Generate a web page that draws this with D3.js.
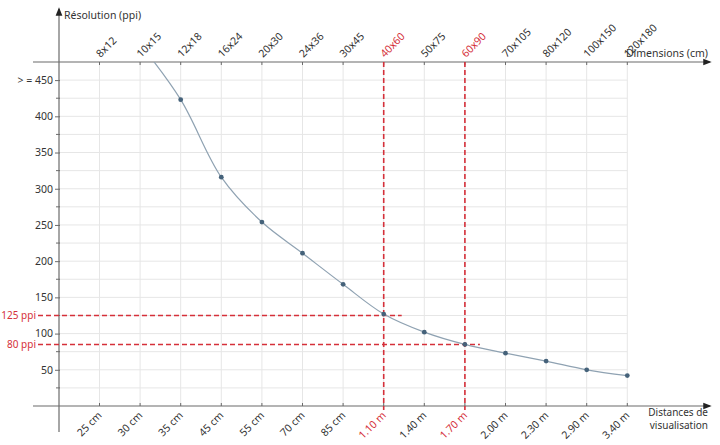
<!DOCTYPE html>
<html>
<head>
<meta charset="utf-8">
<script src="https://cdn.jsdelivr.net/npm/d3@7"></script>
<style>
  body { margin: 0; background: #fff; }
  svg text { font-family: "Noto Sans", "Open Sans", sans-serif; }
</style>
</head>
<body>
<div id="chart"></div>
<script>
// print sizes (top axis) and matching viewing distances (bottom axis)
var dimensions = ["8x12", "10x15", "12x18", "16x24", "20x30", "24x36", "30x45",
  "40x60", "50x75", "60x90", "70x105", "80x120", "100x150", "120x180"];
var distances = ["25 cm", "30 cm", "35 cm", "45 cm", "55 cm", "70 cm", "85 cm",
  "1.10 m", "1.40 m", "1.70 m", "2.00 m", "2.30 m", "2.90 m", "3.40 m"];
// resolution in ppi (first one is off the chart)
var resolution = [null, 500, 423, 316, 254, 211, 168, 127, 102, 85, 73, 62, 50, 42];

var yTicks = [50, 100, 150, 200, 250, 300, 350, 400, 450];
var yMinor = [25, 75, 125, 175, 225, 275, 325, 375, 425];
var yLabels = ["50", "100", "150", "200", "250", "300", "350", "400", "> = 450"];

// the two highlighted cases
var marks = [
  { dim: "40x60", dist: "1.10 m", ppi: 125, label: "125 ppi", reach: 18 },
  { dim: "60x90", dist: "1.70 m", ppi: 85, label: "80 ppi", reach: 15 }
];
var highlighted = marks.map(function(m) { return m.dim; });
var highlightedDist = marks.map(function(m) { return m.dist; });

var W = 720, H = 445;
var red = "#d5303a", axisColor = "#6b6b6b", gridColor = "#e6e6e6", textColor = "#333";

var svg = d3.select("#chart").append("svg")
  .attr("width", W)
  .attr("height", H);

var y0 = 59;     // x position of the vertical axis
var topY = 62;   // y of the dimensions axis
var botY = 406;  // y of the distances axis

var x = d3.scalePoint().domain(dimensions).range([99.5, 627.3]);
var xd = d3.scalePoint().domain(distances).range([99.5, 627.3]);
var y = d3.scaleLinear().domain([0, 475]).range([botY, topY]);

// grid
var grid = svg.append("g");
grid.selectAll(".hg").data(yTicks.concat(yMinor)).enter().append("line")
  .attr("x1", y0).attr("x2", x.range()[1])
  .attr("y1", function(d) { return y(d); }).attr("y2", function(d) { return y(d); })
  .attr("stroke", gridColor).attr("stroke-width", 1);
grid.selectAll(".vg").data(dimensions).enter().append("line")
  .attr("x1", function(d) { return x(d); }).attr("x2", function(d) { return x(d); })
  .attr("y1", topY).attr("y2", botY)
  .attr("stroke", gridColor).attr("stroke-width", 1);

// arrow marker for the axes
svg.append("defs").append("marker")
  .attr("id", "arrow")
  .attr("viewBox", "0 0 10 10")
  .attr("refX", 8).attr("refY", 5)
  .attr("markerWidth", 7).attr("markerHeight", 7)
  .attr("orient", "auto")
  .append("path").attr("d", "M0,1 L10,5 L0,9 Z").attr("fill", "#222");

// top axis ticks and rotated labels: dimensions
topAxisTicks = svg.append("g");
topAxisTicks.selectAll("line").data(dimensions).enter().append("line")
  .attr("x1", function(d) { return x(d); }).attr("x2", function(d) { return x(d); })
  .attr("y1", topY).attr("y2", topY + 3)
  .attr("stroke", axisColor);
svg.selectAll(".dimlabel").data(dimensions).enter().append("text")
  .attr("class", "dimlabel")
  .attr("x", 0).attr("y", 0)
  .style("transform", function(d) { return "translate(" + (x(d) + 1) + "px," + (topY - 4) + "px) rotate(-45deg)"; })
  .attr("text-anchor", "start")
  .style("font-size", "10.5px")
  .attr("fill", function(d) { return highlighted.indexOf(d) >= 0 ? red : textColor; })
  .text(function(d) { return d; });

// bottom axis ticks and rotated labels: viewing distances
var botAxisTicks = svg.append("g");
botAxisTicks.selectAll("line").data(distances).enter().append("line")
  .attr("x1", function(d) { return xd(d); }).attr("x2", function(d) { return xd(d); })
  .attr("y1", botY - 3).attr("y2", botY)
  .attr("stroke", axisColor);
svg.selectAll(".distlabel").data(distances).enter().append("text")
  .attr("class", "distlabel")
  .attr("x", 0).attr("y", 0)
  .style("transform", function(d) { return "translate(" + (xd(d) + 3) + "px," + (botY + 10) + "px) rotate(-45deg)"; })
  .attr("text-anchor", "end")
  .style("font-size", "10.5px")
  .attr("fill", function(d) { return highlightedDist.indexOf(d) >= 0 ? red : textColor; })
  .text(function(d) { return d; });

// left axis: resolution
var leftAxis = svg.append("g")
  .attr("transform", "translate(" + y0 + ",0)")
  .call(d3.axisLeft(y).tickValues(yTicks).tickSize(4).tickPadding(2)
    .tickFormat(function(d, i) { return yLabels[i]; }));
leftAxis.select(".domain").remove();
leftAxis.selectAll(".tick line").attr("stroke", axisColor).attr("x2", -4).attr("x1", 1);
leftAxis.selectAll(".tick text").style("font-size", "10.5px").attr("fill", textColor);
svg.append("g").selectAll("line").data(yMinor).enter().append("line")
  .attr("x1", y0 - 3).attr("x2", y0 + 1)
  .attr("y1", function(d) { return y(d); }).attr("y2", function(d) { return y(d); })
  .attr("stroke", axisColor);

// axis lines with arrows
svg.append("line").attr("x1", 33).attr("x2", 710).attr("y1", topY).attr("y2", topY)
  .attr("stroke", axisColor).attr("stroke-width", 1.2).attr("marker-end", "url(#arrow)");
svg.append("line").attr("x1", 33).attr("x2", 710).attr("y1", botY).attr("y2", botY)
  .attr("stroke", axisColor).attr("stroke-width", 1.2).attr("marker-end", "url(#arrow)");
svg.append("line").attr("x1", y0).attr("x2", y0).attr("y1", 432).attr("y2", 9)
  .attr("stroke", axisColor).attr("stroke-width", 1.2).attr("marker-end", "url(#arrow)");

// axis titles
svg.append("text").attr("x", 64).attr("y", 19).text("Résolution (ppi)")
  .style("font-size", "10.5px").attr("fill", textColor);
svg.append("text").attr("x", 708).attr("y", 57).attr("text-anchor", "end")
  .text("Dimensions (cm)").style("font-size", "10.5px").attr("fill", textColor);
svg.append("text").attr("x", 708).attr("y", 416).attr("text-anchor", "end")
  .style("font-size", "10px").attr("fill", textColor).text("Distances de");
svg.append("text").attr("x", 708).attr("y", 429).attr("text-anchor", "end")
  .style("font-size", "10px").attr("fill", textColor).text("visualisation");

// reference lines
var ref = svg.append("g");
marks.forEach(function(m) {
  ref.append("line")
    .attr("x1", 38).attr("x2", x(m.dim) + m.reach)
    .attr("y1", y(m.ppi)).attr("y2", y(m.ppi))
    .attr("stroke", red).attr("stroke-width", 1.6).attr("stroke-dasharray", "5,3");
  ref.append("line")
    .attr("x1", x(m.dim)).attr("x2", x(m.dim))
    .attr("y1", topY).attr("y2", botY + 4)
    .attr("stroke", red).attr("stroke-width", 1.6).attr("stroke-dasharray", "5,3");
  ref.append("text")
    .attr("x", 36).attr("y", y(m.ppi)).attr("dy", "0.35em")
    .attr("text-anchor", "end").text(m.label)
    .style("font-size", "10px").attr("fill", red);
});

// the curve, clipped to the plot area
svg.append("clipPath").attr("id", "plot")
  .append("rect").attr("x", y0).attr("y", topY).attr("width", W - y0).attr("height", botY - topY);

var pts = dimensions.map(function(d, i) { return { dim: d, v: resolution[i] }; });
var line = d3.line()
  .defined(function(d) { return d.v != null; })
  .x(function(d) { return x(d.dim); })
  .y(function(d) { return y(d.v); })
  .curve(d3.curveCatmullRom.alpha(0.5));

svg.append("path")
  .datum(pts)
  .attr("clip-path", "url(#plot)")
  .attr("d", line)
  .attr("fill", "none")
  .attr("stroke", "#8fa2b2")
  .attr("stroke-width", 1.2);

svg.append("g").selectAll("circle")
  .data(pts.filter(function(d) { return d.v != null && d.v <= 475; }))
  .enter().append("circle")
  .attr("cx", function(d) { return x(d.dim); })
  .attr("cy", function(d) { return y(d.v); })
  .attr("r", 2.4)
  .attr("fill", "#45627a");
</script>
</body>
</html>
